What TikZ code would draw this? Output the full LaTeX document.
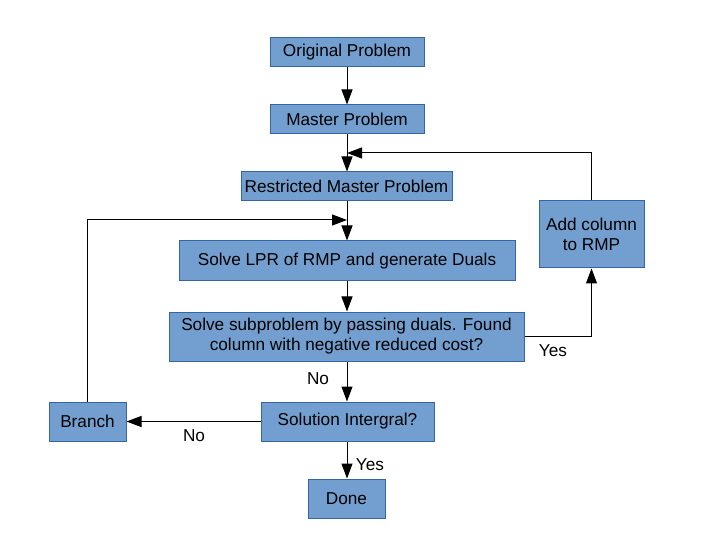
\documentclass[tikz,border=0pt]{standalone}
\usepackage{fontspec}
\setmainfont{Liberation Sans}
\usetikzlibrary{arrows.meta}
\definecolor{boxfill}{HTML}{729FCF}
\definecolor{boxborder}{HTML}{3465A4}
\tikzset{
  box/.style={draw=boxborder, fill=boxfill, line width=1pt, inner sep=0pt,
    align=center, font=\fontsize{17.2}{20}\selectfont},
  conn/.style={draw=black, line width=1pt, -{Triangle[length=15pt,width=11pt]}},
  lbl/.style={inner sep=0pt, font=\fontsize{17.2}{20}\selectfont}
}
\begin{document}
\begin{tikzpicture}[x=1pt,y=-1pt]
\useasboundingbox (0,0) rectangle (722,534);
\node[box, minimum width=154pt, minimum height=29pt] (orig) at (347,52.5) {Original Problem};
\node[box, minimum width=154pt, minimum height=29pt] (master) at (347,119.5) {Master Problem};
\node[box, minimum width=211pt, minimum height=29pt] (rmp) at (346.5,186.5) {Restricted Master Problem};
\node[box, minimum width=336pt, minimum height=40pt] (lpr) at (347,261) {Solve LPR of RMP and generate Duals};
\node[box, minimum width=355pt, minimum height=49pt] (sub) at (346.5,336.5) {Solve subproblem by passing duals. Found\\column with negative reduced cost?};
\node[box, minimum width=105pt, minimum height=67pt] (add) at (591.5,234.5) {Add column\\to RMP};
\node[box, minimum width=173pt, minimum height=39pt] (sol) at (347.5,421.5) {Solution Intergral?};
\node[box, minimum width=77pt, minimum height=39pt] (branch) at (87.5,421.5) {Branch};
\node[box, minimum width=77pt, minimum height=39pt] (done) at (346.5,498.5) {Done};
\coordinate (p1) at (347,153);
\coordinate (p2) at (347,220);
\draw[conn] (orig.south -| 347,0) -- (master.north -| 347,0);
\draw[conn] (master.south -| 347,0) -- (rmp.north -| 347,0);
\draw[conn] (rmp.south -| 347,0) -- (lpr.north -| 347,0);
\draw[conn] (lpr.south -| 347,0) -- (sub.north -| 347,0);
\draw[conn] (sub.south -| 347,0) -- (sol.north -| 347,0);
\draw[conn] (sol.south -| 347,0) -- (done.north -| 347,0);
\draw[conn] (sol.west) -- (branch.east);
\draw[conn] (sub.east) -| (add.south);
\draw[conn] (add.north) |- (p1);
\draw[conn] (branch.north) |- (p2);
\node[lbl] (yes1) at (553,351) {Yes};
\node[lbl] (no1) at (318,379) {No};
\node[lbl] (no2) at (194,436) {No};
\node[lbl] (yes2) at (370,465) {Yes};
\end{tikzpicture}
\end{document}
